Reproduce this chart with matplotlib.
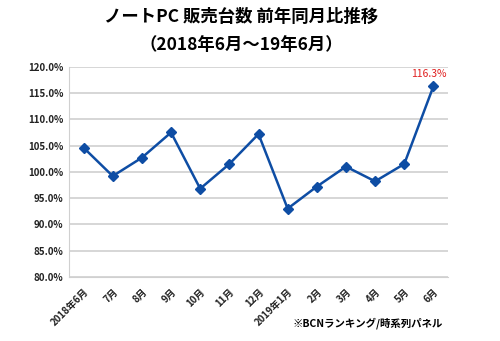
import matplotlib
matplotlib.use("Agg")
import matplotlib.pyplot as plt
from matplotlib.ticker import FuncFormatter

plt.rcParams['font.family'] = ['Noto Sans CJK JP', 'DejaVu Sans']

# months from 2018/6 to 2019/6
months = ["2018年6月", "7月", "8月", "9月", "10月", "11月", "12月",
          "2019年1月", "2月", "3月", "4月", "5月", "6月"]
# year-on-year ratio of notebook PC units sold (%)
ratio = [104.6, 99.2, 102.7, 107.5, 96.8, 101.5, 107.2,
         93.0, 97.2, 101.0, 98.2, 101.5, 116.3]
yticks = [80, 85, 90, 95, 100, 105, 110, 115, 120]

fig = plt.figure(figsize=(5, 3.41), dpi=100)
ax = fig.add_axes([0.138, 0.188, 0.758, 0.616])

x = list(range(len(months)))
ax.plot(x, ratio, color="#0E4DA4", lw=1.8, marker="D", ms=5, zorder=3)

ax.set_xlim(-0.5, len(months) - 0.5)
ax.set_ylim(80, 120)
ax.set_yticks(yticks)
ax.yaxis.set_major_formatter(FuncFormatter(lambda v, p: "%.1f%%" % v))
ax.grid(axis="y", color="#d0d0d0", lw=1.2)
ax.set_axisbelow(True)
for s in ["top", "right"]:
    ax.spines[s].set_visible(False)
ax.spines["left"].set_color("#d0d0d0")
ax.spines["bottom"].set_color("#d0d0d0")
ax.tick_params(axis="both", length=0, labelsize=7, colors="#222222")
ax.tick_params(axis="y", pad=4)
ax.tick_params(axis="x", pad=7)

ax.set_xticks(x)
ax.set_xticklabels(months, rotation=45, ha="right", rotation_mode="anchor",
                   fontsize=7, fontweight="bold")
for lab in ax.get_yticklabels():
    lab.set_fontweight("bold")

# label the last point
ax.annotate("%.1f%%" % ratio[-1], (x[-1], ratio[-1]), xytext=(-3, 5),
            textcoords="offset points", ha="center", va="bottom",
            color="#e02020", fontsize=7.5)

fig.text(0.482, 0.95, "ノートPC 販売台数 前年同月比推移", ha="center", va="center",
         fontsize=12.5, fontweight="bold")
fig.text(0.482, 0.868, "（2018年6月～19年6月）", ha="center", va="center",
         fontsize=12.5, fontweight="bold")
fig.text(0.886, 0.052, "※BCNランキング/時系列パネル", ha="right", va="center",
         fontsize=7.5, fontweight="bold")

plt.savefig("out.png", dpi=100)
